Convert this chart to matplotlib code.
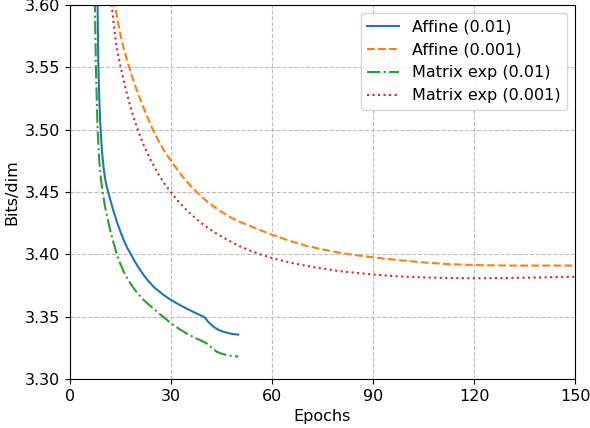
import matplotlib
matplotlib.use("Agg")
import matplotlib.pyplot as plt

# Affine (0.01)
aff01_epochs = [7, 7.8, 8.2, 8.4, 8.7, 9.0, 9.5, 10.0, 10.5, 11.0, 11.3, 12, 13, 14, 15, 16, 17, 18, 19, 20, 21, 22, 23, 25, 27.5, 30, 32.5, 35, 37.5, 40, 41, 42.6, 44, 45.5, 47, 48.5, 50]
aff01_vals = [3.80, 3.66, 3.60, 3.555, 3.525, 3.505, 3.483, 3.469, 3.4595, 3.4535, 3.4505, 3.4435, 3.434, 3.4255, 3.418, 3.4113, 3.4053, 3.4005, 3.3955, 3.391, 3.3868, 3.383, 3.3795, 3.3735, 3.368, 3.3634, 3.3595, 3.356, 3.3527, 3.3495, 3.346, 3.342, 3.3395, 3.338, 3.3368, 3.336, 3.3356]

# Affine (0.001)
aff001_epochs = [11, 12, 13.4, 14, 15, 16, 17.6, 19, 20.5, 22, 24.3, 26, 28, 30, 32, 34, 36, 38, 40, 42.5, 45, 47.5, 50, 53.5, 56.4, 60, 65, 70, 75, 80, 85, 90, 97, 105, 112, 120, 130, 140, 150]
aff001_vals = [3.70, 3.645, 3.60, 3.59, 3.576, 3.5645, 3.55, 3.538, 3.527, 3.5165, 3.502, 3.4925, 3.483, 3.475, 3.4675, 3.4605, 3.4545, 3.449, 3.444, 3.4388, 3.434, 3.430, 3.4265, 3.4227, 3.4195, 3.4158, 3.411, 3.407, 3.404, 3.4013, 3.3993, 3.3976, 3.3955, 3.3935, 3.3922, 3.3914, 3.391, 3.391, 3.391]

# Matrix exp (0.01)
mexp01_epochs = [6.5, 7, 7.4, 7.7, 8.2, 8.7, 9.2, 9.7, 10.5, 11.5, 12.5, 13.9, 15, 16, 17, 18, 19, 20, 22, 25, 27.5, 30, 32.5, 35, 37.5, 40, 41, 42, 43.5, 45, 47, 48.5, 50]
mexp01_vals = [3.85, 3.70, 3.60, 3.55, 3.50, 3.475, 3.46, 3.45, 3.437, 3.4245, 3.4135, 3.40, 3.392, 3.386, 3.381, 3.3765, 3.3725, 3.369, 3.363, 3.356, 3.3503, 3.3447, 3.340, 3.336, 3.3325, 3.3295, 3.3278, 3.3255, 3.322, 3.3203, 3.319, 3.3183, 3.318]

# Matrix exp (0.001)
mexp001_epochs = [10.5, 11.5, 12.4, 13, 13.7, 14.4, 15, 16, 17, 18, 19, 20.3, 22, 24, 26, 28, 30.2, 32.5, 35, 37.5, 40, 43, 46.5, 50, 53.5, 57, 60, 66, 73.2, 80, 90, 97, 105, 112, 120, 130, 140, 150]
mexp001_vals = [3.70, 3.64, 3.60, 3.584, 3.5695, 3.5585, 3.551, 3.539, 3.528, 3.518, 3.509, 3.4985, 3.487, 3.4755, 3.4655, 3.457, 3.449, 3.4415, 3.4345, 3.4285, 3.423, 3.4175, 3.412, 3.407, 3.403, 3.3995, 3.397, 3.393, 3.3893, 3.3865, 3.3838, 3.3824, 3.3815, 3.381, 3.3808, 3.381, 3.3815, 3.382]

x_ticks = [0, 30, 60, 90, 120, 150]
y_ticks = [3.30, 3.35, 3.40, 3.45, 3.50, 3.55, 3.60]

plt.rcParams['font.size'] = 11.5

fig = plt.figure(figsize=(5.9, 4.28), dpi=100)
ax = fig.add_axes([0.1186, 0.1145, 0.856, 0.8738])

ax.plot(aff01_epochs, aff01_vals, color='#1f77b4', linestyle='-', linewidth=1.5, label='Affine (0.01)')
ax.plot(aff001_epochs, aff001_vals, color='#ff7f0e', linestyle='--', linewidth=1.5, label='Affine (0.001)')
ax.plot(mexp01_epochs, mexp01_vals, color='#2ca02c', linestyle='-.', linewidth=1.5, label='Matrix exp (0.01)')
ax.plot(mexp001_epochs, mexp001_vals, color='#d62728', linestyle=':', linewidth=1.5, label='Matrix exp (0.001)')

ax.set_xlim(0, 150)
ax.set_ylim(3.30, 3.60)
ax.set_xticks(x_ticks)
ax.set_yticks(y_ticks)
ax.set_yticklabels([f"{v:.2f}" for v in y_ticks])
ax.grid(True, linestyle='--', color='#c0c0c0', linewidth=0.8)
ax.set_xlabel('Epochs')
ax.set_ylabel('Bits/dim')
ax.legend(loc='upper right')

fig.savefig('out.png', dpi=100)
